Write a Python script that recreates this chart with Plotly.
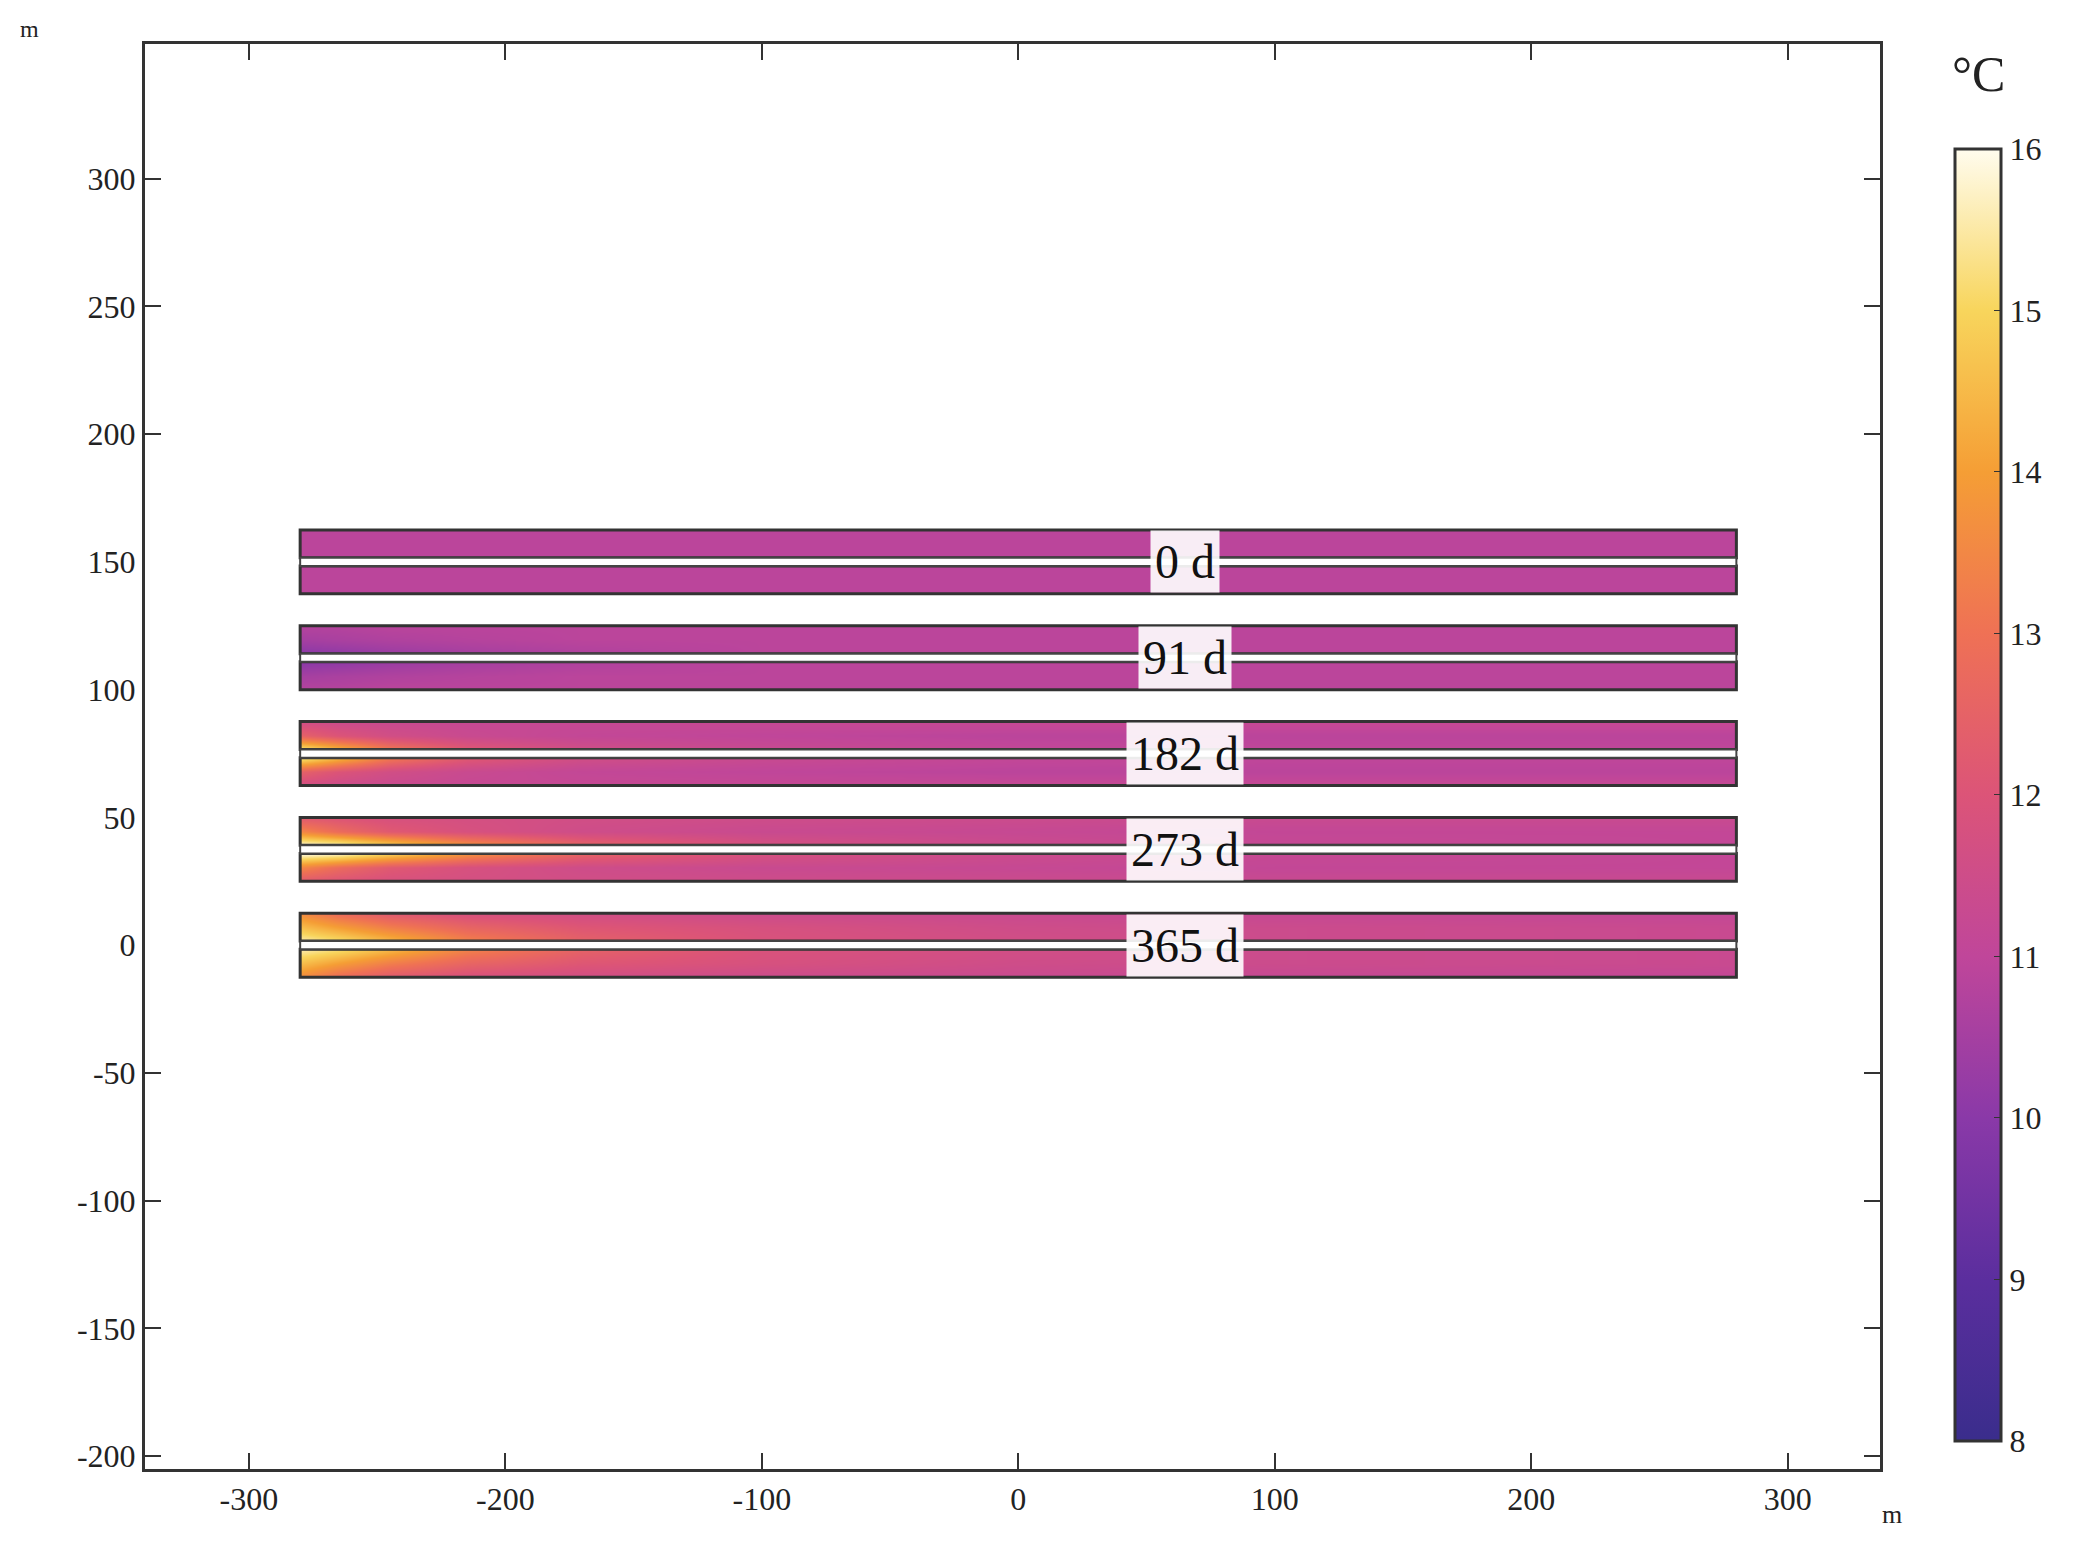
import plotly.graph_objects as go

# strip layout (m) and labels
labels = ["0 d", "91 d", "182 d", "273 d", "365 d"]
centers = [150, 112.5, 75, 37.5, 0]
x_pos = [-280, -265, -245, -215, -170, -100, 0, 100, 280]
x_ticks = list(range(-300, 301, 100))
y_ticks = list(range(-200, 301, 50))

# temperature readings (degC) per strip: rows outer, mid, inner for each channel (same both sides)
t_outer = [
    [10.9, 10.9, 10.9, 10.9, 10.9, 10.9, 10.9, 10.9, 10.9],
    [10.8, 10.8, 10.9, 10.9, 10.9, 10.9, 10.9, 10.9, 10.9],
    [11.6, 11.4, 11.3, 11.2, 11.2, 11.2, 11.2, 11.2, 11.2],
    [12.2, 12.0, 11.8, 11.7, 11.6, 11.5, 11.4, 11.3, 11.3],
    [13.6, 12.8, 12.2, 11.8, 11.6, 11.4, 11.3, 11.2, 11.1],
]
t_mid = [
    [10.9, 10.9, 10.9, 10.9, 10.9, 10.9, 10.9, 10.9, 10.9],
    [10.5, 10.6, 10.7, 10.8, 10.9, 10.9, 10.9, 10.9, 10.9],
    [12.5, 12.0, 11.6, 11.3, 11.1, 11.0, 10.9, 10.9, 10.9],
    [13.5, 12.8, 12.2, 11.8, 11.5, 11.3, 11.2, 11.1, 11.1],
    [14.6, 14.0, 13.3, 12.6, 12.1, 11.8, 11.5, 11.4, 11.3],
]
t_inner = [
    [10.9, 10.9, 10.9, 10.9, 10.9, 10.9, 10.9, 10.9, 10.9],
    [10.0, 10.1, 10.3, 10.5, 10.7, 10.9, 10.9, 10.9, 10.9],
    [15.5, 14.5, 13.2, 12.2, 11.6, 11.3, 11.1, 11.0, 11.0],
    [16.0, 15.8, 15.0, 13.8, 12.6, 11.8, 11.4, 11.2, 11.1],
    [15.6, 15.2, 14.5, 13.4, 12.5, 11.9, 11.6, 11.4, 11.3],
]

scale = [
    [0.0, "#3a2d8c"], [0.125, "#5b2e9e"], [0.25, "#8a39a8"], [0.375, "#c0469a"],
    [0.5, "#dc5478"], [0.625, "#ef7155"], [0.75, "#f59e35"], [0.875, "#f8d55c"],
    [1.0, "#fffcee"],
]

serif = "Liberation Serif"
half, gap = 12.5, 1.6
xr = [-340.5, 336]
fig = go.Figure()
masks, shapes, annotations = [], [], []
for i, c in enumerate(centers):
    ys = [c - half, c - 7, c - gap, c + gap, c + 7, c + half]
    z = [t_outer[i], t_mid[i], t_inner[i], t_inner[i], t_mid[i], t_outer[i]]
    fig.add_trace(go.Heatmap(
        x=x_pos, y=ys, z=z, zmin=8, zmax=16, zsmooth="best", colorscale=scale,
        showscale=(i == 0),
        colorbar=dict(
            x=1.043, xanchor="left", xpad=0, y=0.473, len=0.921, thickness=46,
            outlinecolor="#333", outlinewidth=3, tickvals=list(range(8, 17)),
            ticks="inside", ticklen=8, tickcolor="#333",
            tickfont=dict(family=serif, size=32, color="#222"),
        ),
        hoverinfo="skip",
    ))
    # white masks trimming the heatmap bricks to the strip extent
    for y0, y1 in [(c - half - 6, c - half), (c + half, c + half + 6)]:
        masks.append(dict(type="rect", x0=xr[0], x1=xr[1], y0=y0, y1=y1,
                          fillcolor="white", line=dict(width=0)))
    for x0, x1 in [(xr[0], x_pos[0]), (x_pos[-1], xr[1])]:
        masks.append(dict(type="rect", x0=x0, x1=x1, y0=c - half - 6, y1=c + half + 6,
                          fillcolor="white", line=dict(width=0)))
    for y0, y1 in [(c - half, c - gap), (c + gap, c + half)]:
        shapes.append(dict(type="rect", x0=x_pos[0], x1=x_pos[-1], y0=y0, y1=y1,
                           line=dict(color="#333", width=3)))
    shapes.append(dict(type="rect", x0=x_pos[0], x1=x_pos[-1], y0=c - gap, y1=c + gap,
                       fillcolor="white", line=dict(color="#444", width=2)))
    annotations.append(dict(x=65, y=c, text=labels[i], showarrow=False,
                            font=dict(family=serif, size=48, color="#111"),
                            bgcolor="rgba(255,255,255,0.9)", borderpad=4))

annotations += [
    dict(x=-0.06, y=1.0, xref="paper", yref="paper", text="m", showarrow=False,
         font=dict(family=serif, size=24, color="#222"), xanchor="right", yanchor="bottom"),
    dict(x=1.0, y=-0.02, xref="paper", yref="paper", text="m", showarrow=False,
         font=dict(family=serif, size=26, color="#222"), xanchor="left", yanchor="top"),
    dict(x=1.057, y=1.0, xref="paper", yref="paper", text="°C", showarrow=False,
         font=dict(family=serif, size=50, color="#222"), xanchor="center", yanchor="top"),
]

axis = dict(showgrid=False, zeroline=False, mirror="ticks", ticks="inside", ticklen=16,
            tickwidth=2, tickcolor="#333", showline=True, linecolor="#333", linewidth=3,
            tickfont=dict(family=serif, size=32, color="#222"))
fig.update_layout(
    width=2088, height=1542, plot_bgcolor="white", paper_bgcolor="white",
    margin=dict(l=137, r=216, t=36, b=81),
    xaxis=dict(axis, range=xr, tickvals=x_ticks, ticktext=[str(v) for v in x_ticks]),
    yaxis=dict(axis, range=[-205, 352.7], tickvals=y_ticks, ticktext=[str(v) for v in y_ticks]),
    shapes=masks + shapes, annotations=annotations, showlegend=False,
)
fig.write_html("out.html")
